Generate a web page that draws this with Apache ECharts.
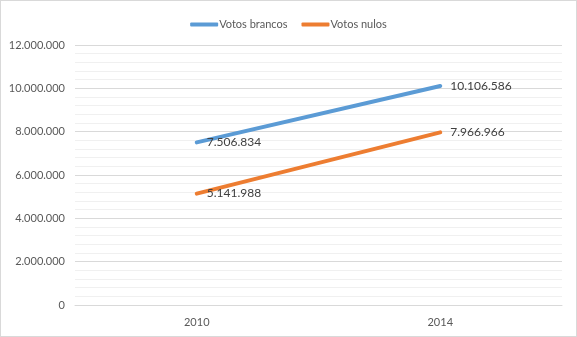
<!DOCTYPE html>
<html>
<head>
<meta charset="utf-8">
<script src="https://cdn.jsdelivr.net/npm/echarts@6/dist/echarts.min.js"></script>
<style>
  html, body { margin: 0; padding: 0; background: #fff; }
  #chart { width: 575px; height: 335px; border: 1px solid #d9d9d9; }
</style>
</head>
<body>
<div id="chart"></div>
<script>
// Election years and vote counts
const years = ['2010', '2014'];
const votosBrancos = [7506834, 10106586];
const votosNulos = [5141988, 7966966];
const yTicks = { min: 0, max: 12000000, interval: 2000000 };

// Thousands separated by dots, pt-BR style
function fmt(v) {
  return String(Math.round(v)).replace(/\B(?=(\d{3})+(?!\d))/g, '.');
}

const chart = echarts.init(document.getElementById('chart'));
const font = 'Lato, "Open Sans", sans-serif';

function lineSeries(name, data, color) {
  return {
    name: name,
    type: 'line',
    data: data,
    showSymbol: true,
    symbol: 'circle',
    symbolSize: 0,
    lineStyle: { color: color, width: 4, cap: 'round' },
    itemStyle: { color: color },
    label: {
      show: true, position: 'right', distance: 10,
      color: '#404040', fontSize: 12, fontFamily: font,
      formatter: p => fmt(p.value)
    }
  };
}

chart.setOption({
  animation: false,
  textStyle: { fontFamily: font },
  legend: {
    top: 13,
    left: 'center',
    itemWidth: 28,
    itemHeight: 4,
    itemGap: 14,
    icon: 'roundRect',
    textStyle: { color: '#595959', fontSize: 11, fontFamily: font, padding: [0, 0, 0, -4] },
    data: ['Votos brancos', 'Votos nulos']
  },
  grid: { left: 74, right: 14, top: 44, bottom: 31 },
  xAxis: {
    type: 'category',
    data: years,
    boundaryGap: true,
    axisLine: { lineStyle: { color: '#d9d9d9', width: 1 } },
    axisTick: { show: false },
    axisLabel: { color: '#595959', fontSize: 11, fontFamily: font, margin: 12 }
  },
  yAxis: {
    type: 'value',
    min: yTicks.min,
    max: yTicks.max,
    interval: yTicks.interval,
    axisLine: { show: false },
    axisTick: { show: false },
    axisLabel: { color: '#595959', fontSize: 11, fontFamily: font, margin: 10, formatter: fmt },
    splitLine: { lineStyle: { color: '#d9d9d9', width: 1 } },
    minorTick: { show: false, splitNumber: 5 },
    minorSplitLine: { show: true, lineStyle: { color: '#f0f0f0', width: 1 } }
  },
  series: [
    lineSeries('Votos brancos', votosBrancos, '#5b9bd5'),
    lineSeries('Votos nulos', votosNulos, '#ed7d31')
  ]
});
</script>
</body>
</html>
